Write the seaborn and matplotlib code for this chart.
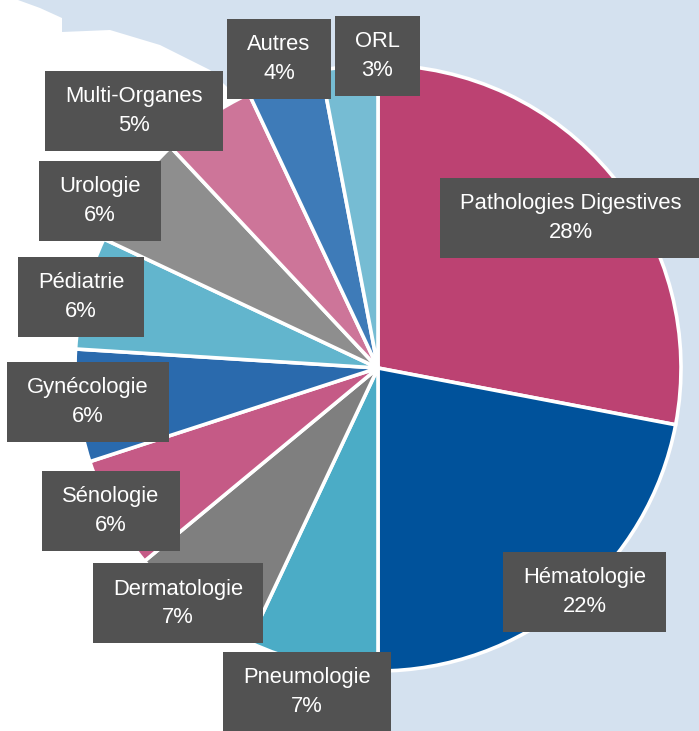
import matplotlib
matplotlib.use("Agg")
import matplotlib.pyplot as plt
from matplotlib import font_manager
from matplotlib.patches import Polygon, Rectangle
import seaborn as sns

# data
categories = ["Pathologies Digestives", "Hématologie", "Pneumologie", "Dermatologie",
              "Sénologie", "Gynécologie", "Pédiatrie", "Urologie", "Multi-Organes",
              "Autres", "ORL"]
shares = [28, 22, 7, 7, 6, 6, 6, 6, 5, 4, 3]
colors = ["#bc4272", "#00529b", "#4bacc6", "#7f7f7f", "#c55a86", "#2a6aad",
          "#62b5cd", "#8e8e8e", "#cd7599", "#3e7bb8", "#76bcd3"]

# label box centres, in pie-radius units (layout only)
label_pos = [(0.637, 0.495), (0.683, -0.739), (-0.234, -1.069), (-0.660, -0.776),
             (-0.881, -0.472), (-0.957, -0.112), (-0.980, 0.234), (-0.917, 0.551),
             (-0.805, 0.848), (-0.327, 1.020), (-0.003, 1.030)]

sns.set_theme(style="white")
names = {f.name for f in font_manager.fontManager.ttflist}
if "Liberation Sans Narrow" in names:
    fam, fsize = "Liberation Sans Narrow", 18.2
else:
    fam, fsize = "Liberation Sans", 15.8
plt.rcParams["font.family"] = [fam, "DejaVu Sans"]

W, H = 699, 731
cx, cy, R = 378, 368, 303
fig = plt.figure(figsize=(W / 100, H / 100), dpi=100)
fig.patch.set_facecolor("#d4e1ef")
ax = fig.add_axes([0, 0, 1, 1])
ax.set_facecolor("#d4e1ef")

# white land behind the pie (background map)
land = [(0, 0), (18, 0), (40, 8), (62, 18), (62, 32), (110, 30), (160, 45), (210, 70),
        (250, 110), (330, 250), (370, 400), (380, 600), (385, 731), (0, 731)]
ax.add_patch(Polygon([(x / W, 1 - y / H) for x, y in land], closed=True,
                     facecolor="white", edgecolor="none", transform=ax.transAxes, zorder=0))

ax.pie(shares, colors=colors, startangle=90, counterclock=False, radius=1,
       wedgeprops=dict(edgecolor="white", linewidth=2.6))
ax.set_xlim(-cx / R, (W - cx) / R)
ax.set_ylim(-(H - cy) / R, cy / R)
ax.set_aspect("equal")
ax.axis("off")

texts = []
for name, val, (x, y) in zip(categories, shares, label_pos):
    t = ax.text(x, y, f"{name}\n{val}%", ha="center", va="center", ma="center",
                color="white", fontsize=fsize, linespacing=1.45, zorder=5)
    texts.append(t)

fig.canvas.draw()
r = fig.canvas.get_renderer()
inv = ax.transData.inverted()
for t in texts:
    bb = t.get_window_extent(r)
    xc = (bb.x0 + bb.x1) / 2
    yc = (bb.y0 + bb.y1) / 2
    w = bb.width + 40
    h = 80
    (x0, y0) = inv.transform((xc - w / 2, yc - h / 2))
    (x1, y1) = inv.transform((xc + w / 2, yc + h / 2))
    ax.add_patch(Rectangle((x0, y0), x1 - x0, y1 - y0, facecolor="#525252",
                           edgecolor="none", zorder=4))

fig.savefig("out.png", dpi=100, facecolor=fig.get_facecolor())
